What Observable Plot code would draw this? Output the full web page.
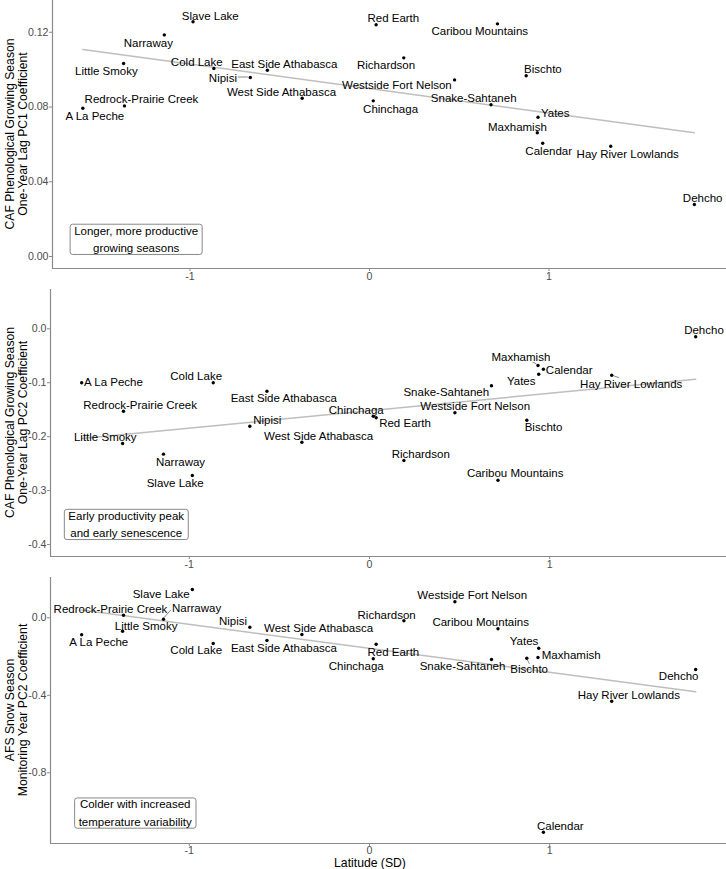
<!DOCTYPE html>
<html><head><meta charset="utf-8">
<script src="https://cdn.jsdelivr.net/npm/d3@7"></script>
<script src="https://cdn.jsdelivr.net/npm/@observablehq/plot@0.6"></script>
<style>
html,body{margin:0;padding:0;background:#fff;}
#chart{width:726px;}
#chart svg{display:block;}
</style></head><body><div id="chart"></div>
<script>
// ---------- DATA ----------
const sites = ["A La Peche","Little Smoky","Redrock-Prairie Creek","Narraway","Slave Lake","Cold Lake","Nipisi","East Side Athabasca","West Side Athabasca","Chinchaga","Red Earth","Richardson","Westside Fort Nelson","Snake-Sahtaneh","Caribou Mountains","Bischto","Maxhamish","Yates","Calendar","Hay River Lowlands","Dehcho"];
const latitudeSD = [-1.597,-1.370,-1.365,-1.143,-0.983,-0.867,-0.664,-0.569,-0.375,0.021,0.037,0.191,0.474,0.677,0.713,0.873,0.935,0.939,0.965,1.344,1.810];
const cafPC1Lag = [0.0793,0.1033,0.0806,0.1186,0.1256,0.1006,0.0958,0.0997,0.0847,0.0833,0.1240,0.1063,0.0945,0.0812,0.1245,0.0967,0.0662,0.0745,0.0606,0.0590,0.0278];
const cafPC2Lag = [-0.100,-0.2127,-0.1528,-0.2325,-0.2720,-0.100,-0.1806,-0.1157,-0.2103,-0.1621,-0.1650,-0.2442,-0.1558,-0.1057,-0.2808,-0.1695,-0.0681,-0.0842,-0.0749,-0.0860,-0.0148];
const afsPC2 = [-0.0877,-0.0692,0.0134,-0.0072,0.146,-0.1326,-0.0485,-0.1172,-0.0862,-0.2116,-0.1363,-0.0155,0.0826,-0.2152,-0.0568,-0.2085,-0.2049,-0.1569,-1.1066,-0.4305,-0.2668];
const xTicks = [-1, 0, 1];
const yTicks1 = [0, 0.04, 0.08, 0.12];
const yTicks2 = [0, -0.1, -0.2, -0.3, -0.4];
const yTicks3 = [0, -0.4, -0.8];
const yTitles1 = ["CAF Phenological Growing Season", "One-Year Lag PC1 Coefficient"];
const yTitles2 = ["CAF Phenological Growing Season", "One-Year Lag PC2 Coefficient"];
const yTitles3 = ["AFS Snow Season", "Monitoring Year PC2 Coefficient"];
const xTitle = "Latitude (SD)";
const noteTexts = ["Longer, more productive\ngrowing seasons", "Early productivity peak\nand early senescence", "Colder with increased\ntemperature variability"];
const noteX = [-1.3, -1.35, -1.3];
const noteY = [0.01, -0.36, -1.0];

// ---------- LAYOUT (label offsets in px, repel-like) ----------
const labelOff1 = [[12,8.3],[-17.2,8],[17,-6.3],[-16,8],[17.2,-5.6],[-17.1,-6],[-27.4,1],[17,-6],[-20.7,-6],[17.3,8],[17.2,-6.3],[-17.7,7],[-57.7,5],[-17.3,-6.3],[-17.7,7.7],[16.7,-6],[-19.9,-5.6],[17.2,-4],[6,7.6],[17,7.6],[8.3,-6]];
const labelOff2 = [[31.8,0],[-17.3,-6.3],[16.6,-5.7],[17,8],[-17.2,7.7],[-17.1,-6],[17.5,-6],[16.8,7.6],[16.7,-6],[-17.1,-5.7],[28.9,5.7],[16.8,-6.3],[20.3,-6.3],[-45.2,6.4],[17.2,-6.4],[16.7,7.6],[-17.1,-8],[-17.5,7],[25.8,1.6],[19.5,9],[8.3,-6]];
const labelOff3 = [[17.1,8],[23.5,-4.7],[-13,-6],[33.1,-10.7],[-31.2,4.7],[-17,7.3],[-16.8,-6],[17,7.7],[16.7,-5.7],[-17.1,7.4],[17.2,8.3],[-17.3,-5.6],[17.3,-6.6],[-29,7],[-17.3,-6.3],[2.3,11],[33.2,-2],[-14.7,-6.4],[16.9,-5.7],[17.1,-5.7],[-17,7.3]];
const segs1 = [{i:6, a:[-2,0], b:[-12,0]}];
const segs2 = [{i:16, a:[-1,-1], b:[-5,-3]}, {i:19, a:[2,1], b:[8,3]}];
const segs3 = [{i:3, a:[1,-1], b:[8,-9]}, {i:15, a:[1,2], b:[3,6]}];

const FONT = "'Liberation Sans', Arial, sans-serif";
const axisGray = "#8a8a8a";
const tickGray = "#4d4d4d";

function panel(cfg) {
  const rows = sites.map((s, i) => ({site: s, lat: latitudeSD[i], v: cfg.values[i]}));
  const labels = rows.map((r, i) => Plot.text([r], {x: "lat", y: "v", text: "site", dx: cfg.off[i][0], dy: cfg.off[i][1], fontSize: 11.5, fill: "#000"}));
  const segMark = (index, scales) => {
    const g = d3.create("svg:g");
    for (const s of cfg.segs) {
      const r = rows[s.i];
      const px = scales.x(r.lat), py = scales.y(r.v);
      g.append("line").attr("x1", px + s.a[0]).attr("y1", py + s.a[1]).attr("x2", px + s.b[0]).attr("y2", py + s.b[1])
        .attr("stroke", "#555").attr("stroke-width", 0.7);
    }
    return g.node();
  };
  const note = [{x: noteX[cfg.k], y: noteY[cfg.k], t: noteTexts[cfg.k]}];
  const svg = Plot.plot({
    width: 726, height: cfg.height,
    marginTop: 0, marginBottom: cfg.mb, marginLeft: cfg.ml, marginRight: 0,
    style: {fontFamily: FONT, fontSize: "11.5px", background: "white", overflow: "visible"},
    x: {domain: cfg.xd},
    y: {domain: cfg.yd},
    marks: [
      Plot.ruleX([cfg.xd[0]], {stroke: axisGray, strokeWidth: 1.2}),
      Plot.ruleY([cfg.yd[0]], {stroke: axisGray, strokeWidth: 1.2}),
      Plot.axisX({ticks: xTicks, tickSize: 3, tickPadding: cfg.xtp, tickFormat: d => String(d), stroke: axisGray, fill: tickGray, fontSize: 10.6, label: null}),
      Plot.axisY({ticks: cfg.yTicks, tickSize: 3, tickPadding: 1, tickFormat: cfg.fmt, stroke: axisGray, fill: tickGray, fontSize: 10.6, label: null}),
      Plot.linearRegressionY(rows, {x: "lat", y: "v", stroke: "#bebebe", strokeWidth: 1.5, ci: 0}),
      segMark,
      Plot.dot(rows, {x: "lat", y: "v", r: 1.7, fill: "#000"}),
      ...labels,
      Plot.text(note, {x: "x", y: "y", text: "t", lineHeight: 1.5, fontSize: 11.5, fill: "#000"})
    ]
  });
  document.getElementById("chart").appendChild(svg);
  const S = d3.select(svg);
  // box around annotation (found by its content)
  const target = noteTexts[cfg.k].replace("\n", "");
  S.selectAll("text").filter(function () { return this.textContent === target; }).each(function () {
    const b = this.getBBox();
    const rect = document.createElementNS("http://www.w3.org/2000/svg", "rect");
    rect.setAttribute("x", b.x - 4); rect.setAttribute("y", b.y - 0.5);
    rect.setAttribute("width", b.width + 8); rect.setAttribute("height", b.height + 1);
    rect.setAttribute("rx", 2.5); rect.setAttribute("fill", "white");
    rect.setAttribute("stroke", "#7a7a7a"); rect.setAttribute("stroke-width", 0.9);
    const tr = this.getAttribute("transform"); if (tr) rect.setAttribute("transform", tr);
    this.parentNode.insertBefore(rect, this);
  });
  // y-axis titles
  const cy = (cfg.height - cfg.mb) / 2;
  cfg.titles.forEach((line, j) => {
    S.append("text").attr("transform", `translate(${[9.5, 22.5][j]},${cy}) rotate(-90)`)
      .attr("text-anchor", "middle").attr("dominant-baseline", "central")
      .attr("font-size", 12.2).attr("fill", "#000").attr("font-family", FONT).text(line);
  });
  if (cfg.xTitle) {
    S.append("text").attr("x", 370).attr("y", cfg.height - 6).attr("text-anchor", "middle")
      .attr("dominant-baseline", "central").attr("font-size", 12.2).attr("fill", "#000").attr("font-family", FONT).text(cfg.xTitle);
  }
}

panel({k: 0, values: cafPC1Lag, off: labelOff1, segs: segs1, height: 289, mb: 21, ml: 52, xtp: 1,
  xd: [-1.766, 1.989], yd: [-0.00642, 0.137], yTicks: yTicks1, fmt: d => d.toFixed(2), titles: yTitles1});
panel({k: 1, values: cafPC2Lag, off: labelOff2, segs: segs2, height: 288, mb: 21, ml: 50, xtp: 1,
  xd: [-1.770, 1.981], yd: [-0.4223, 0.0729], yTicks: yTicks2, fmt: d => d.toFixed(1), titles: yTitles2});
panel({k: 2, values: afsPC2, off: labelOff3, segs: segs3, height: 292, mb: 26, ml: 50, xtp: 0,
  xd: [-1.770, 1.981], yd: [-1.1649, 0.208], yTicks: yTicks3, fmt: d => d.toFixed(1), titles: yTitles3, xTitle: xTitle});
</script></body></html>
